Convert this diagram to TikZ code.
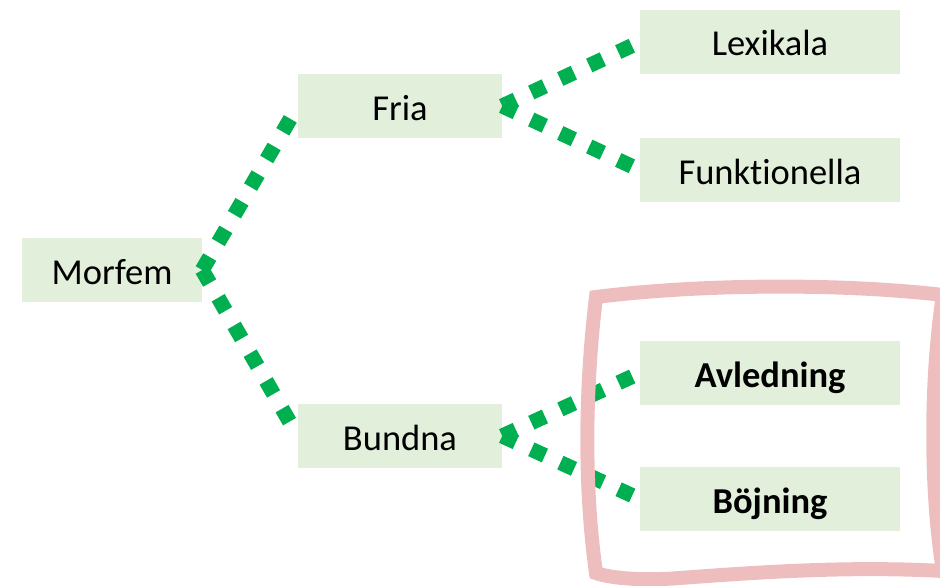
\documentclass[tikz,border=0pt]{standalone}
\usepackage{fontspec}
\setmainfont{Carlito}[RawFeature={-liga}]
\definecolor{boxfill}{HTML}{E2EFDA}
\definecolor{linkgreen}{HTML}{00B050}
\definecolor{markred}{HTML}{EEBDBE}
\begin{document}
\begin{tikzpicture}[x=1pt,y=-1pt,
  box/.style={fill=boxfill, draw=none, minimum width=#1, minimum height=64pt, inner sep=0pt, font=\fontsize{36.5}{40}\selectfont, text height=28pt, text depth=0pt},
  box/.default=204pt,
  link/.style={draw=linkgreen, line width=15pt, dash pattern=on 15pt off 17pt}]
\useasboundingbox (0,0) rectangle (940,586);
\clip (0,0) rectangle (940,586);
\node[box=180pt] (morfem) at (112,270) {Morfem};
\node[box] (fria) at (400,106) {Fria};
\node[box] (bundna) at (400,436) {Bundna};
\node[box=260pt] (lex) at (770,42) {Lexikala};
\node[box=260pt] (funk) at (770,170) {Funktionella};
\node[box=260pt] (avl) at (770,373) {\textbf{Avledning}};
\node[box=260pt] (boj) at (770,499) {\textbf{Böjning}};
\draw[link] (morfem.east) -- (fria.west);
\draw[link] (morfem.east) -- (bundna.west);
\draw[link] (fria.east) -- (lex.west);
\draw[link] (fria.east) -- (funk.west);
\draw[link] (bundna.east) -- (avl.west);
\draw[link] (bundna.east) -- (boj.west);
\draw[markred, line width=14pt, line join=miter]
  (596,297) .. controls (700,284) and (840,283) .. (943,295)
  .. controls (930,380) and (930,490) .. (943,571)
  .. controls (850,566) and (760,572) .. (680,578)
  .. controls (640,581) and (610,578) .. (596,573)
  .. controls (583,480) and (586,380) .. cycle;
\end{tikzpicture}
\end{document}
